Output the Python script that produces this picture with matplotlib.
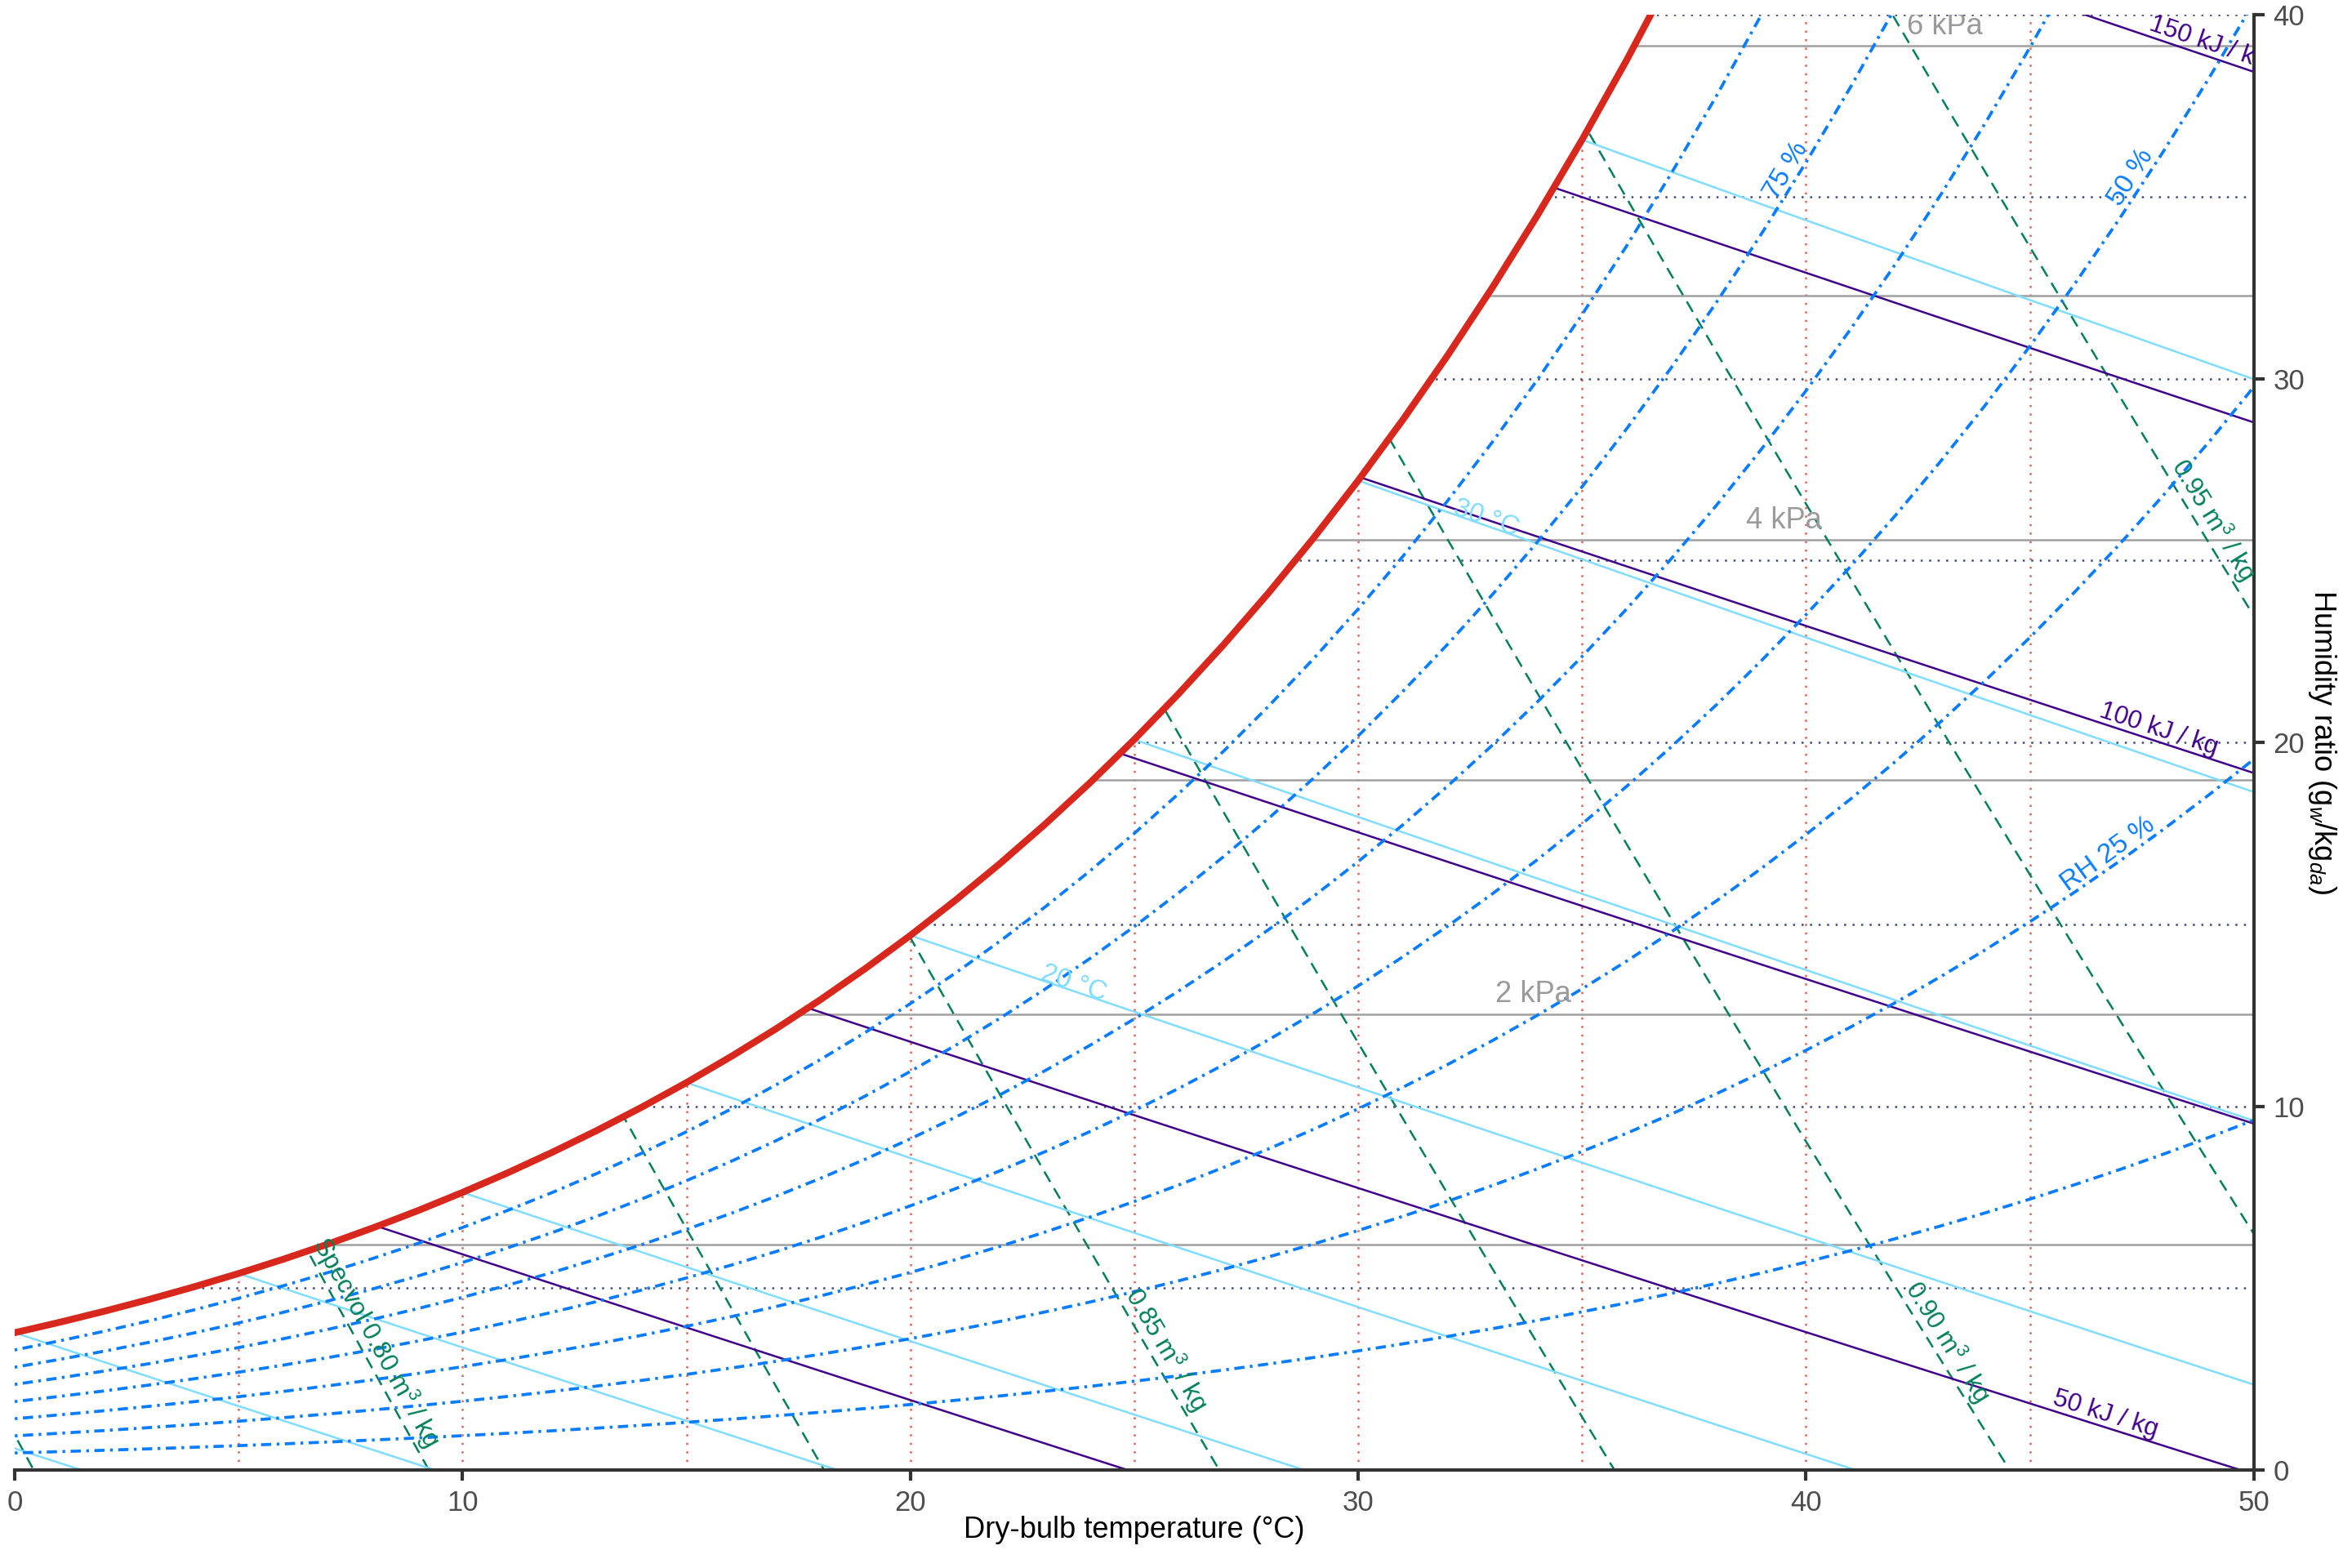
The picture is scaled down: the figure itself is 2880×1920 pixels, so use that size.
import numpy as np
import matplotlib.pyplot as plt
from matplotlib.patches import Polygon

plt.rcParams['font.family'] = ['Liberation Sans', 'DejaVu Sans']
plt.rcParams['mathtext.fontset'] = 'custom'
plt.rcParams['mathtext.rm'] = 'Liberation Sans'
plt.rcParams['mathtext.it'] = 'Liberation Sans:italic'
plt.rcParams['lines.scale_dashes'] = False

P_ATM = 101.325  # kPa

# saturation vapour pressure table (kPa) for dry-bulb temperatures -5..50 °C
temp_c = np.arange(-5, 51)
psat_kpa = [0.4215, 0.4547, 0.4900, 0.5277, 0.5679,
            0.6112, 0.6571, 0.7060, 0.7581, 0.8135, 0.8725, 0.9353, 1.0020, 1.0729, 1.1481,
            1.2281, 1.3129, 1.4028, 1.4981, 1.5989, 1.7057, 1.8187, 1.9380, 2.0643, 2.1978,
            2.3388, 2.4877, 2.6447, 2.8104, 2.9850, 3.1690, 3.3629, 3.5670, 3.7818, 4.0078,
            4.2455, 4.4953, 4.7578, 5.0335, 5.3229, 5.6267, 5.9453, 6.2795, 6.6298, 6.9969,
            7.3814, 7.7840, 8.2054, 8.6463, 9.1075, 9.5898, 10.094, 10.620, 11.171, 11.745,
            12.344]

rh_levels = [12.5, 25, 37.5, 50, 62.5, 75, 87.5]
enthalpy_levels = [25, 50, 75, 100, 125, 150]          # kJ/kg
wet_bulb_levels = [-5, 0, 5, 10, 15, 20, 25, 30, 35]   # °C
specvol_levels = [0.775, 0.80, 0.825, 0.85, 0.875, 0.90, 0.925, 0.95]  # m3/kg
vap_press_levels = [1, 2, 3, 4, 5, 6]                  # kPa
grid_temps = [5, 10, 15, 20, 25, 30, 35, 40, 45]
grid_w = [5, 10, 15, 20, 25, 30, 35, 40]

# label placement: level -> position along the line
rh_labels = {25: ('RH 25 %', 46.9), 50: ('50 %', 47.5), 75: ('75 %', 39.8)}
h_labels = {50: ('50 kJ / kg', 46.6), 100: ('100 kJ / kg', 47.8), 150: ('150 kJ / kg', 48.9)}
wb_labels = {20: ('20 °C', 23.6), 30: ('30 °C', 32.8)}
v_labels = {0.80: ('Specvol 0.80 m$^3$ / kg', 3.3), 0.85: ('0.85 m$^3$ / kg', 3.1),
            0.90: ('0.90 m$^3$ / kg', 3.3), 0.95: ('0.95 m$^3$ / kg', 25.9)}
p_labels = {2: ('2 kPa', 33.9), 4: ('4 kPa', 39.5), 6: ('6 kPa', 43.1)}

C_SAT = '#D8271C'
C_RH = '#0A7CFF'
C_H = '#40008A'
C_WB = '#80DDFF'
C_V = '#00805A'
C_P = '#A0A0A0'
C_TD = '#E0453C'
C_W = '#283A6E'

psat = np.array(psat_kpa)
t = temp_c.astype(float)


def w_from_p(p):
    return 621.945 * p / (P_ATM - p)


w_sat = w_from_p(psat)

fig = plt.figure(figsize=(9.6, 6.4), dpi=300)
ax = fig.add_axes([0.00625, 0.0625, 0.952, 0.928])
ax.set_xlim(0, 50)
ax.set_ylim(0, 40)

clip = Polygon(list(zip(t, w_sat)) + [(50, -5), (-5, -5)], closed=True,
               transform=ax.transData)


def draw(x, y, **kw):
    line, = ax.plot(x, y, **kw)
    line.set_clip_path(clip)
    return line


def label(x, y, dx, dy, text, color, fs, va='bottom'):
    ang = np.degrees(np.arctan2(dy, dx))
    ax.text(x, y, text, color=color, fontsize=fs, rotation=ang,
            transform_rotates_text=True, rotation_mode='anchor',
            ha='center', va=va, clip_on=True, zorder=10)


# grid: constant dry-bulb and constant humidity ratio
for td in grid_temps:
    draw([td, td], [0, 40], color=C_TD, lw=0.6, ls=(0, (0.6, 1.9)), alpha=0.85)
for w in grid_w:
    draw([0, 50], [w, w], color=C_W, lw=0.6, ls=(0, (0.6, 1.9)), alpha=0.9)

# vapour pressure lines
for p in vap_press_levels:
    w = w_from_p(p)
    draw([0, 50], [w, w], color=C_P, lw=0.6)
    if p in p_labels:
        txt, xl = p_labels[p]
        ax.text(xl, w + 0.15, txt, color='#9A9A9A', fontsize=8.7, ha='center',
                va='bottom', clip_on=True, zorder=10)

# constant specific volume
for v in specvol_levels:
    wv = (v * P_ATM / (0.287042 * (t + 273.15)) - 1) / 1.607858 * 1000
    draw(t, wv, color=C_V, lw=0.6, ls=(0, (3.5, 2.2)))
    if v in v_labels:
        txt, wl = v_labels[v]
        tl = v * P_ATM / (0.287042 * (1 + 1.607858 * wl / 1000)) - 273.15
        tl2 = v * P_ATM / (0.287042 * (1 + 1.607858 * (wl - 1) / 1000)) - 273.15
        label(tl, wl, tl2 - tl, -1, txt, C_V, 7.5)

# constant wet-bulb
for twb in wet_bulb_levels:
    ws = w_sat[list(temp_c).index(twb)] / 1000
    ww = ((2501 - 2.326 * twb) * ws - 1.006 * (t - twb)) / (2501 + 1.86 * t - 4.186 * twb) * 1000
    m = t >= twb
    draw(t[m], ww[m], color=C_WB, lw=0.6)
    if twb in wb_labels:
        txt, xl = wb_labels[twb]
        yl = np.interp(xl, t[m], ww[m])
        dy = np.interp(xl + 1, t[m], ww[m]) - yl
        label(xl, yl, 1, dy, txt, C_WB, 7.9, va='baseline')

# constant enthalpy
for h in enthalpy_levels:
    wh = (h - 1.006 * t) / (2501 + 1.86 * t) * 1000
    draw(t, wh, color=C_H, lw=0.6)
    if h in h_labels:
        txt, xl = h_labels[h]
        yl = np.interp(xl, t, wh)
        dy = np.interp(xl + 1, t, wh) - yl
        label(xl, yl, 1, dy, txt, C_H, 7.5)

# constant relative humidity
for rh in rh_levels:
    wr = w_from_p(rh / 100 * psat)
    draw(t, wr, color=C_RH, lw=0.9, ls=(0, (3.0, 1.6, 0.8, 1.6)))
    if rh in rh_labels:
        txt, xl = rh_labels[rh]
        yl = np.interp(xl, t, wr)
        dy = np.interp(xl + 1, t, wr) - yl
        label(xl, yl, 1, dy, txt, C_RH, 8.0)

# saturation curve
ax.plot(t, w_sat, color=C_SAT, lw=2.0, zorder=8, solid_capstyle='butt')

# axes styling
for s in ['left', 'top']:
    ax.spines[s].set_visible(False)
for s in ['bottom', 'right']:
    ax.spines[s].set_color('#333333')
    ax.spines[s].set_linewidth(1.0)
ax.yaxis.tick_right()
ax.set_xticks([0, 10, 20, 30, 40, 50])
ax.set_yticks([0, 10, 20, 30, 40])
ax.tick_params(axis='both', length=3.2, width=1.0, color='#333333',
               labelsize=8.3, labelcolor='#4D4D4D', pad=2.5)

ax.set_xlabel('Dry-bulb temperature (°C)', fontsize=8.7, color='black', va='center')
ax.xaxis.set_label_coords(0.5, -0.041)
ax.yaxis.set_label_position('right')
ax.set_ylabel('Humidity ratio (g$_w$/kg$_{da}$)', fontsize=8.7, color='black',
              rotation=270, va='center')
ax.yaxis.set_label_coords(1.0307, 0.5)

fig.savefig('out.png', dpi=300)
